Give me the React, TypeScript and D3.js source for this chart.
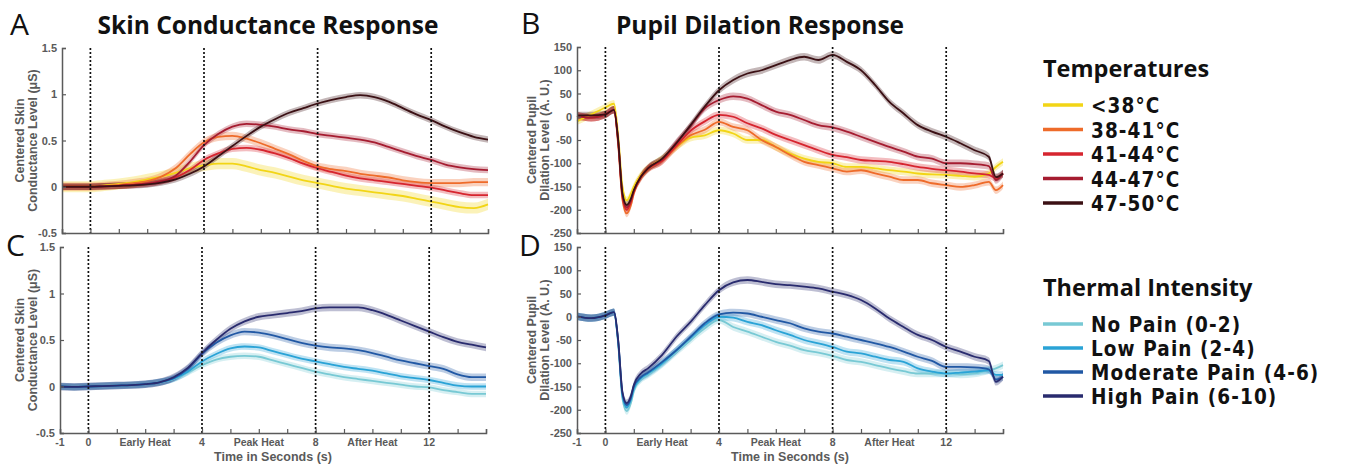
import React, { useEffect, useRef } from "react";
import * as d3 from "d3";

// time grids (seconds)
const SCR_T = [-1, -0.5, 0, 0.5, 1, 1.5, 2, 2.5, 3, 3.5, 4, 4.5, 5, 5.5, 6, 6.5, 7, 7.5, 8, 8.5, 9, 9.5, 10, 10.5, 11, 11.5, 12, 12.5, 13, 13.5, 14];
const PUP_T = [-1, -0.5, 0, 0.3, 0.45, 0.6, 0.75, 0.9, 1, 1.25, 1.5, 2, 2.5, 3, 3.5, 4, 4.5, 5, 5.5, 6, 6.5, 7, 7.5, 8, 8.5, 9, 9.5, 10, 10.5, 11, 11.5, 12, 12.5, 13, 13.5, 13.75, 14];

const tempLabels = ["<38°C", "38-41°C", "41-44°C", "44-47°C", "47-50°C"];
const tempColors = ["#f2d516", "#ee6b2a", "#d6252f", "#a51c30", "#3b1014"];
const painLabels = ["No Pain (0-2)", "Low Pain (2-4)", "Moderate Pain (4-6)", "High Pain (6-10)"];
const painColors = ["#78c9d4", "#2aa3d6", "#2158a4", "#292b6e"];

// A: skin conductance by temperature
const scrTemp = [
  [0, 0, 0, 0.015, 0.03, 0.05, 0.08, 0.11, 0.15, 0.2, 0.23, 0.25, 0.25, 0.22, 0.18, 0.15, 0.11, 0.07, 0.04, 0.01, -0.02, -0.04, -0.06, -0.08, -0.1, -0.13, -0.16, -0.19, -0.22, -0.23, -0.19],
  [0, 0, 0, 0.01, 0.02, 0.04, 0.06, 0.11, 0.2, 0.35, 0.48, 0.54, 0.55, 0.52, 0.47, 0.41, 0.35, 0.28, 0.22, 0.19, 0.17, 0.14, 0.12, 0.1, 0.07, 0.05, 0.04, 0.04, 0.04, 0.05, 0.05],
  [0, 0, 0, 0.005, 0.01, 0.02, 0.035, 0.06, 0.1, 0.18, 0.29, 0.36, 0.41, 0.42, 0.4, 0.36, 0.31, 0.25, 0.2, 0.16, 0.12, 0.09, 0.07, 0.05, 0.03, 0.01, -0.01, -0.04, -0.07, -0.09, -0.09],
  [0, 0, 0, 0.005, 0.01, 0.02, 0.03, 0.06, 0.12, 0.27, 0.45, 0.57, 0.65, 0.68, 0.67, 0.65, 0.62, 0.6, 0.57, 0.55, 0.53, 0.51, 0.48, 0.43, 0.38, 0.33, 0.29, 0.24, 0.21, 0.19, 0.18],
  [0, 0, 0, 0.005, 0.01, 0.015, 0.025, 0.045, 0.08, 0.14, 0.22, 0.33, 0.44, 0.55, 0.65, 0.73, 0.8, 0.85, 0.9, 0.94, 0.97, 0.99, 0.97, 0.92, 0.85, 0.78, 0.72, 0.65, 0.59, 0.54, 0.51],
];
const scrTempErr = [0.06, 0.045, 0.035, 0.035, 0.035];

// C: skin conductance by pain rating
const scrPain = [
  [0, -0.005, 0, 0.005, 0.01, 0.015, 0.025, 0.045, 0.08, 0.15, 0.23, 0.29, 0.32, 0.33, 0.32, 0.28, 0.24, 0.2, 0.16, 0.13, 0.1, 0.08, 0.06, 0.04, 0.02, 0, -0.01, -0.04, -0.06, -0.08, -0.08],
  [0, -0.005, 0, 0.005, 0.01, 0.015, 0.025, 0.045, 0.085, 0.16, 0.27, 0.35, 0.41, 0.43, 0.42, 0.38, 0.34, 0.3, 0.27, 0.24, 0.21, 0.19, 0.17, 0.14, 0.11, 0.09, 0.07, 0.04, 0.01, 0, 0],
  [0, -0.005, 0, 0.005, 0.01, 0.015, 0.025, 0.045, 0.09, 0.19, 0.35, 0.47, 0.55, 0.59, 0.58, 0.55, 0.51, 0.47, 0.44, 0.42, 0.41, 0.39, 0.36, 0.32, 0.28, 0.25, 0.22, 0.19, 0.13, 0.1, 0.1],
  [0, -0.005, 0, 0.005, 0.01, 0.015, 0.025, 0.045, 0.1, 0.2, 0.36, 0.5, 0.62, 0.7, 0.75, 0.77, 0.79, 0.81, 0.84, 0.85, 0.85, 0.85, 0.82, 0.77, 0.71, 0.65, 0.59, 0.53, 0.48, 0.45, 0.42],
];
const scrPainErr = [0.035, 0.035, 0.04, 0.04];

// B: pupil dilation by temperature
const pupTemp = [
  [-10, 5, 20, 28, -40, -150, -180, -165, -150, -125, -110, -90, -65, -45, -40, -29, -36, -50, -50, -65, -79, -90, -97, -100, -108, -108, -111, -115, -118, -122, -124, -125, -127, -129, -122, -108, -97],
  [2, -2, 5, 15, -60, -178, -208, -190, -165, -132, -113, -95, -65, -40, -28, -11, -22, -29, -50, -65, -82, -97, -104, -111, -118, -115, -122, -129, -136, -136, -143, -147, -151, -147, -140, -158, -147],
  [2, -2, 5, 15, -55, -172, -200, -183, -162, -130, -112, -95, -62, -30, -10, 4, 0, -14, -25, -39, -50, -61, -72, -82, -87, -93, -95, -97, -102, -108, -112, -115, -118, -122, -125, -132, -122],
  [2, -2, 5, 15, -52, -168, -195, -180, -160, -128, -110, -92, -55, -20, 18, 36, 44, 39, 25, 11, 4, -7, -18, -23, -32, -43, -54, -65, -75, -86, -90, -100, -100, -102, -106, -136, -122],
  [3, 3, 5, 15, -50, -165, -190, -176, -158, -129, -111, -90, -57, -18, 22, 57, 79, 93, 100, 111, 122, 129, 122, 133, 118, 100, 68, 32, 7, -18, -32, -43, -57, -72, -86, -130, -122],
];

// D: pupil dilation by pain rating
const pupPain = [
  [1, -3, 3, 10, -58, -176, -203, -185, -160, -135, -125, -102, -76, -50, -25, -7, -22, -32, -43, -54, -62, -72, -77, -84, -93, -97, -104, -111, -117, -122, -122, -122, -124, -122, -115, -111, -104],
  [1, -3, 3, 10, -55, -170, -195, -178, -155, -132, -122, -100, -72, -45, -18, 0, -2, -11, -18, -29, -39, -50, -57, -65, -75, -79, -86, -93, -97, -111, -118, -122, -120, -118, -115, -125, -125],
  [1, -3, 3, 10, -52, -165, -190, -174, -150, -130, -120, -97, -72, -43, -14, 5, 9, 7, 0, -7, -14, -25, -32, -36, -43, -50, -57, -65, -75, -86, -95, -108, -108, -109, -113, -135, -129],
  [1, -3, 3, 10, -50, -162, -186, -170, -147, -122, -111, -82, -43, -11, 25, 57, 74, 79, 75, 70, 68, 65, 61, 54, 47, 36, 18, -4, -22, -39, -50, -65, -75, -86, -95, -140, -129],
];
const pupErr = 8;

const scrTicks = [-0.5, 0, 0.5, 1, 1.5];
const pupTicks = [-250, -200, -150, -100, -50, 0, 50, 100, 150];
const markers = [0, 4, 8, 12];
const xTickLabels = [
  { t: -1, label: "-1" },
  { t: 0, label: "0" },
  { t: 2, label: "Early Heat" },
  { t: 4, label: "4" },
  { t: 6, label: "Peak Heat" },
  { t: 8, label: "8" },
  { t: 10, label: "After Heat" },
  { t: 12, label: "12" },
];

const AXIS_FONT = "'Liberation Sans', Arial, sans-serif";
const GREY = "#5a5a5a";

const Panel = ({ x0, x1, yTop, yBot, yDomain, yTicks, tickFmt, times, series, colors, errs, yLabel, showX }) => {
  const ref = useRef(null);

  useEffect(() => {
    const g = d3.select(ref.current);
    g.selectAll("*").remove();

    const x = d3.scaleLinear().domain([-1, 14]).range([x0, x1]);
    const y = d3.scaleLinear().domain(yDomain).range([yBot, yTop]);

    // shaded error bands then lines
    series.forEach((vals, i) => {
      const e = errs[i];
      const pts = times.map((t, j) => ({ t, v: vals[j] }));
      const area = d3
        .area()
        .x(d => x(d.t))
        .y0(d => y(d.v - e))
        .y1(d => y(d.v + e))
        .curve(d3.curveMonotoneX);
      g.append("path")
        .attr("d", area(pts))
        .attr("fill", colors[i])
        .attr("opacity", 0.3);
    });
    series.forEach((vals, i) => {
      const pts = times.map((t, j) => ({ t, v: vals[j] }));
      const line = d3
        .line()
        .x(d => x(d.t))
        .y(d => y(d.v))
        .curve(d3.curveMonotoneX);
      g.append("path")
        .attr("d", line(pts))
        .attr("fill", "none")
        .attr("stroke", colors[i])
        .attr("stroke-width", 1.8);
    });

    // dotted event markers
    markers.forEach(t => {
      g.append("line")
        .attr("x1", x(t))
        .attr("x2", x(t))
        .attr("y1", yTop)
        .attr("y2", yBot)
        .attr("stroke", "#111")
        .attr("stroke-width", 1.7)
        .attr("stroke-dasharray", "2,2");
    });

    // axes, MATLAB style with inward ticks
    const yAxis = d3.axisLeft(y).tickValues(yTicks).tickSize(-4).tickPadding(5).tickFormat(tickFmt);
    const ya = g.append("g").attr("transform", `translate(${x0},0)`).call(yAxis);
    const xAxis = d3.axisBottom(x).ticks(15).tickSize(-4).tickFormat(() => "");
    const xa = g.append("g").attr("transform", `translate(0,${yBot})`).call(xAxis);
    [ya, xa].forEach(a => {
      a.select(".domain").attr("stroke", GREY).attr("stroke-width", 1.5);
      a.selectAll(".tick line").attr("stroke", GREY).attr("stroke-width", 1.2);
      a.selectAll("text")
        .attr("fill", GREY)
        .style("font-family", AXIS_FONT)
        .style("font-size", "11px")
        .style("font-weight", "bold");
    });

    const yMid = (yTop + yBot) / 2;
    yLabel.forEach(l => {
      g.append("text")
        .attr("transform", `translate(${l.x},${yMid}) rotate(-90)`)
        .attr("text-anchor", "middle")
        .attr("fill", GREY)
        .style("font-family", AXIS_FONT)
        .style("font-size", "12.5px")
        .style("font-weight", "bold")
        .text(l.text);
    });

    if (showX) {
      xTickLabels.forEach(d => {
        g.append("text")
          .attr("x", x(d.t))
          .attr("y", yBot + 13)
          .attr("text-anchor", "middle")
          .attr("fill", GREY)
          .style("font-family", AXIS_FONT)
          .style("font-size", "10.5px")
          .style("font-weight", "bold")
          .text(d.label);
      });
      g.append("text")
        .attr("x", (x0 + x1) / 2)
        .attr("y", yBot + 28)
        .attr("text-anchor", "middle")
        .attr("fill", GREY)
        .style("font-family", AXIS_FONT)
        .style("font-size", "12.5px")
        .style("font-weight", "bold")
        .text("Time in Seconds (s)");
    }
  }, []);

  return <g ref={ref} />;
};

const Legend = ({ x, y, title, labels, colors, step }) => (
  <g fill="#111">
    <text x={x} y={y} fontFamily="'Open Sans', sans-serif" fontSize={23.5} fontWeight={700}>{title}</text>
    {labels.map((l, i) => {
      const ly = y + 28 + i * step;
      return (
        <g key={l}>
          <line x1={x} x2={x + 40} y1={ly} y2={ly} stroke={colors[i]} strokeWidth={3.5} />
          <text x={x + 48} y={ly + 8} fontFamily="'DejaVu Sans Condensed', 'DejaVu Sans', sans-serif"
            fontStretch="condensed" fontSize={20.5} fontWeight={700} letterSpacing={1.1}>{l}</text>
        </g>
      );
    })}
  </g>
);

const App = () => {
  const scrFmt = d => (d === 0 ? "0" : String(d));
  const pupFmt = d => String(d);
  const letter = { fontFamily: "'Open Sans', sans-serif", fontSize: 30, fill: "#111" };
  const title = { fontFamily: "'Open Sans', sans-serif", fontSize: 24.5, fontWeight: 700, fill: "#111" };
  return (
    <svg width={1345} height={464} style={{ position: "absolute", left: 0, top: 0, background: "#fff" }}>
      <text x={10} y={35} {...letter}>A</text>
      <text x={521} y={34} {...letter}>B</text>
      <text x={6} y={256} {...letter}>C</text>
      <text x={519} y={256} {...letter}>D</text>
      <text x={268} y={34} textAnchor="middle" {...title}>Skin Conductance Response</text>
      <text x={760} y={34} textAnchor="middle" {...title}>Pupil Dilation Response</text>

      <Panel x0={62} x1={488} yTop={48} yBot={233} yDomain={[-0.5, 1.5]} yTicks={scrTicks} tickFmt={scrFmt}
        times={SCR_T} series={scrTemp} colors={tempColors} errs={scrTempErr}
        yLabel={[{ x: 24, text: "Centered Skin" }, { x: 37, text: "Conductance Level (μS)" }]} showX={false} />
      <Panel x0={60} x1={486} yTop={247} yBot={433} yDomain={[-0.5, 1.5]} yTicks={scrTicks} tickFmt={scrFmt}
        times={SCR_T} series={scrPain} colors={painColors} errs={scrPainErr}
        yLabel={[{ x: 24, text: "Centered Skin" }, { x: 37, text: "Conductance Level (μS)" }]} showX={true} />
      <Panel x0={577} x1={1003} yTop={47} yBot={233} yDomain={[-250, 150]} yTicks={pupTicks} tickFmt={pupFmt}
        times={PUP_T} series={pupTemp} colors={tempColors} errs={tempColors.map(() => pupErr)}
        yLabel={[{ x: 536, text: "Centered Pupil" }, { x: 549, text: "Dilation Level (A. U.)" }]} showX={false} />
      <Panel x0={577} x1={1003} yTop={247} yBot={433} yDomain={[-250, 150]} yTicks={pupTicks} tickFmt={pupFmt}
        times={PUP_T} series={pupPain} colors={painColors} errs={painColors.map(() => pupErr)}
        yLabel={[{ x: 536, text: "Centered Pupil" }, { x: 549, text: "Dilation Level (A. U.)" }]} showX={true} />

      <Legend x={1043} y={77} title="Temperatures" labels={tempLabels} colors={tempColors} step={24.5} />
      <Legend x={1043} y={296} title="Thermal Intensity" labels={painLabels} colors={painColors} step={24} />
    </svg>
  );
};

export default App;
